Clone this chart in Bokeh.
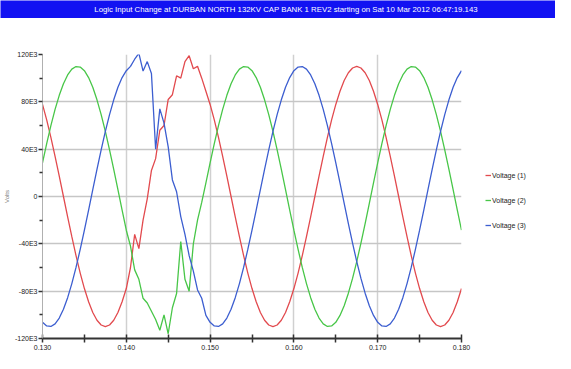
from bokeh.plotting import figure
from bokeh.layouts import column, row
from bokeh.models import FixedTicker, Legend, LegendItem, Label, Range1d
from bokeh.embed import file_html
from bokeh.resources import INLINE

# ---------------- data ----------------
title_text = ("Logic Input Change at DURBAN NORTH 132KV CAP BANK 1 REV2 "
              "starting on Sat 10 Mar 2012 06:47:19.143")
series_names = ["Voltage (1)", "Voltage (2)", "Voltage (3)"]
y_axis_title = "Volts"

t_start = 0.130      # s, first sample
t_step = 0.0005      # s, sample interval

v1_kv = [77.8, 64.7, 49.9, 34.0, 17.2, 0.0, -17.2, -34.0, -49.9, -64.7,
         -77.8, -89.0, -98.0, -104.6, -108.6, -110.0, -108.6, -104.6, -98.0, -89.0,
         -77.8, -60, -32, -44, -20, -2, 22, 32, 56, 60,
         82, 86, 102, 100, 114, 119, 108, 110, 100, 89.0,
         77.8, 64.7, 49.9, 34.0, 17.2, 0.0, -17.2, -34.0, -49.9, -64.7,
         -77.8, -89.0, -98.0, -104.6, -108.6, -110.0, -108.6, -104.6, -98.0, -89.0,
         -77.8, -64.7, -49.9, -34.0, -17.2, 0.0, 17.2, 34.0, 49.9, 64.7,
         77.8, 89.0, 98.0, 104.6, 108.6, 110.0, 108.6, 104.6, 98.0, 89.0,
         77.8, 64.7, 49.9, 34.0, 17.2, 0.0, -17.2, -34.0, -49.9, -64.7,
         -77.8, -89.0, -98.0, -104.6, -108.6, -110.0, -108.6, -104.6, -98.0, -89.0,
         -77.8]

v2_kv = [28.5, 44.7, 59.9, 73.6, 85.5, 95.3, 102.7, 107.6, 109.8, 109.4,
         106.3, 100.5, 92.3, 81.7, 69.2, 55.0, 39.4, 22.9, 5.8, -11.5,
         -28.5, -42, -62, -70, -86, -90, -97, -104, -113, -100,
         -116, -94, -82, -38, -70, -80, -40, -20, -5, 11.5,
         28.5, 44.7, 59.9, 73.6, 85.5, 95.3, 102.7, 107.6, 109.8, 109.4,
         106.3, 100.5, 92.3, 81.7, 69.2, 55.0, 39.4, 22.9, 5.8, -11.5,
         -28.5, -44.7, -59.9, -73.6, -85.5, -95.3, -102.7, -107.6, -109.8, -109.4,
         -106.3, -100.5, -92.3, -81.7, -69.2, -55.0, -39.4, -22.9, -5.8, 11.5,
         28.5, 44.7, 59.9, 73.6, 85.5, 95.3, 102.7, 107.6, 109.8, 109.4,
         106.3, 100.5, 92.3, 81.7, 69.2, 55.0, 39.4, 22.9, 5.8, -11.5,
         -28.5]

v3_kv = [-106.3, -109.4, -109.8, -107.6, -102.7, -95.3, -85.5, -73.6, -59.9, -44.7,
         -28.5, -11.5, 5.8, 22.9, 39.4, 55.0, 69.2, 81.7, 92.3, 100.5,
         106.3, 110, 116, 121, 106, 114, 104, 40, 74, 62,
         42, 14, 4, -17, -32, -50, -63, -79, -86, -100.5,
         -106.3, -109.4, -109.8, -107.6, -102.7, -95.3, -85.5, -73.6, -59.9, -44.7,
         -28.5, -11.5, 5.8, 22.9, 39.4, 55.0, 69.2, 81.7, 92.3, 100.5,
         106.3, 109.4, 109.8, 107.6, 102.7, 95.3, 85.5, 73.6, 59.9, 44.7,
         28.5, 11.5, -5.8, -22.9, -39.4, -55.0, -69.2, -81.7, -92.3, -100.5,
         -106.3, -109.4, -109.8, -107.6, -102.7, -95.3, -85.5, -73.6, -59.9, -44.7,
         -28.5, -11.5, 5.8, 22.9, 39.4, 55.0, 69.2, 81.7, 92.3, 100.5,
         106.3]

x_ticks = [0.130, 0.140, 0.150, 0.160, 0.170, 0.180]
x_tick_labels = ["0.130", "0.140", "0.150", "0.160", "0.170", "0.180"]
x_minor_ticks = [0.135, 0.145, 0.155, 0.165, 0.175]
y_ticks = [-120000, -80000, -40000, 0, 40000, 80000, 120000]
y_tick_labels = ["-120E3", "-80E3", "-40E3", "0", "40E3", "80E3", "120E3"]
y_minor_ticks = [-100000, -60000, -20000, 20000, 60000, 100000]

# ---------------- styling ----------------
FONT = "Liberation Sans"
colors = ["#e24a4e", "#48c648", "#3c5ed0"]
BAR = "#1212f2"
LINE_W = 1.3

t = [round(t_start + i * t_step, 5) for i in range(len(v1_kv))]
volts = [[v * 1000 for v in s] for s in (v1_kv, v2_kv, v3_kv)]

# ---- title bar ----
tf = figure(width=555, height=18, x_range=Range1d(0, 1), y_range=Range1d(0, 1),
            toolbar_location=None, output_backend="svg", min_border=0,
            x_axis_location=None, y_axis_location=None,
            background_fill_color=BAR, border_fill_color=BAR, outline_line_color=None)
tf.grid.visible = False
tf.add_layout(Label(x=0.5, y=0.5, x_offset=8, text=title_text, text_align="center",
                    text_baseline="middle", text_color="white",
                    text_font_size="7.8px", text_font=FONT))

# ---- main chart ----
p = figure(width=473, height=335, x_range=Range1d(x_ticks[0], x_ticks[-1]),
           y_range=Range1d(y_ticks[0], y_ticks[-1]),
           toolbar_location=None, output_backend="svg",
           min_border_left=36, min_border_right=12, min_border_top=36, min_border_bottom=15,
           background_fill_color="white", border_fill_color="white", outline_line_color=None)

renderers = []
for s, c in zip(volts, colors):
    renderers.append(p.line(t, s, line_color=c, line_width=LINE_W))

# x axis
xa = p.xaxis[0]
xa.ticker = FixedTicker(ticks=x_ticks, minor_ticks=x_minor_ticks)
xa.major_label_overrides = dict(zip(x_ticks, x_tick_labels))
xa.axis_line_color = "#333333"
xa.axis_line_width = 2
xa.major_tick_in = 4
xa.major_tick_out = 4
xa.minor_tick_in = 4
xa.minor_tick_out = 4
xa.major_tick_line_color = "#333333"
xa.minor_tick_line_color = "#333333"
xa.major_tick_line_width = 1.5
xa.minor_tick_line_width = 1.5
xa.major_label_standoff = 2
xa.major_label_text_font = FONT
xa.major_label_text_font_size = "7px"
xa.major_label_text_color = "#222222"

# y axis
ya = p.yaxis[0]
ya.ticker = FixedTicker(ticks=y_ticks, minor_ticks=y_minor_ticks)
ya.major_label_overrides = dict(zip(y_ticks, y_tick_labels))
ya.axis_line_color = "#b0b0b0"
ya.axis_line_width = 1
ya.major_tick_in = 0
ya.major_tick_out = 4
ya.minor_tick_in = 0
ya.minor_tick_out = 3
ya.major_tick_line_color = "#333333"
ya.minor_tick_line_color = "#333333"
ya.major_tick_line_width = 1.5
ya.minor_tick_line_width = 1.5
ya.major_label_standoff = 1
ya.major_label_text_font = FONT
ya.major_label_text_font_size = "7px"
ya.major_label_text_color = "#222222"
ya.axis_label = y_axis_title
ya.axis_label_standoff = 2
ya.axis_label_text_font = FONT
ya.axis_label_text_font_size = "6px"
ya.axis_label_text_font_style = "normal"
ya.axis_label_text_color = "#777777"

p.xgrid.ticker = FixedTicker(ticks=x_ticks)
p.ygrid.ticker = FixedTicker(ticks=y_ticks)
p.xgrid.grid_line_color = "#d0d0d0"
p.ygrid.grid_line_color = "#c6c6c6"
p.xgrid.grid_line_width = 1.5
p.ygrid.grid_line_width = 1.5

# ---- legend panel (right of the chart) ----
# proxy lines for the legend keys; this panel's y range lies far outside the data
lf = figure(width=82, height=335, x_range=Range1d(0, 1), y_range=Range1d(1e8, 2e8),
            toolbar_location=None, output_backend="svg", min_border=0,
            x_axis_location=None, y_axis_location=None,
            background_fill_color="white", border_fill_color="white", outline_line_color=None)
lf.grid.visible = False
legend_renderers = [lf.line(t, s, line_color=c, line_width=LINE_W) for s, c in zip(volts, colors)]
legend = Legend(items=[LegendItem(label=n, renderers=[r])
                       for n, r in zip(series_names, legend_renderers)],
                location=(12, 103), orientation="vertical",
                margin=0, padding=0, spacing=5,
                glyph_width=6, glyph_height=20, label_height=20, label_standoff=1,
                label_text_font=FONT, label_text_font_size="7px",
                label_text_color="#222222",
                border_line_color=None, background_fill_alpha=0)
lf.add_layout(legend)

layout = column(tf, row(p, lf, spacing=0), spacing=0)
open("out.html", "w").write(file_html(layout, INLINE))
